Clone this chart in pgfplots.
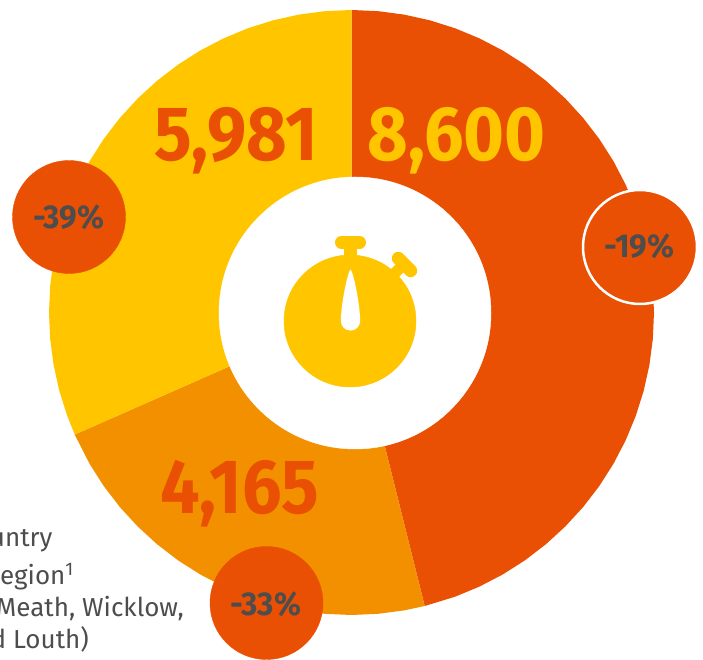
\documentclass[border=0pt]{standalone}
\usepackage{pgfplots}
\usepackage{fontspec}
\pgfplotsset{compat=1.18}
\setmainfont{Fira Sans}
\newfontfamily\bignum{Fira Sans}[FakeStretch=0.91]
\newfontfamily\badgenum{Fira Sans}[FakeStretch=0.95]
\definecolor{deep}{HTML}{E95003}
\definecolor{amber}{HTML}{FFC600}
\definecolor{tangerine}{HTML}{F39000}
\definecolor{ink}{HTML}{4D4D4D}
\pgfplotsset{canvas/.style={
  at={(0,0)}, anchor=south west,
  scale only axis, width=703pt, height=660pt,
  xmin=-351.5, xmax=351.5, ymin=-347.5, ymax=312.5,
  hide axis, clip=false}}
\begin{document}
\begin{tikzpicture}
\path[use as bounding box] (0,0) rectangle (703pt,660pt);
\clip (0,0) rectangle (703pt,660pt);
% Ring, hole, stopwatch body and badges
\begin{axis}[canvas]
% Three sectors, swept clockwise from the top: 8,600 / 4,165 / 5,981 (shares of 18,746)
\addplot[fill=deep, draw=none, data cs=polar] coordinates {
 (0,0) (90,302.5) (85,302.5) (80,302.5) (75,302.5) (70,302.5) (65,302.5) (60,302.5)
 (55,302.5) (50,302.5) (45,302.5) (40,302.5) (35,302.5) (30,302.5) (25,302.5) (20,302.5)
 (15,302.5) (10,302.5) (5,302.5) (0,302.5) (-5,302.5) (-10,302.5) (-15,302.5) (-20,302.5)
 (-25,302.5) (-30,302.5) (-35,302.5) (-40,302.5) (-45,302.5) (-50,302.5) (-55,302.5)
 (-60,302.5) (-65,302.5) (-70,302.5) (-76,302.5)} --cycle;
\addplot[fill=tangerine, draw=none, data cs=polar] coordinates {
 (0,0) (-76,302.5) (-80,302.5) (-85,302.5) (-90,302.5) (-95,302.5) (-100,302.5)
 (-105,302.5) (-110,302.5) (-115,302.5) (-120,302.5) (-125,302.5) (-130,302.5) (-135,302.5)
 (-140,302.5) (-145,302.5) (-150,302.5) (-156.2,302.5)} --cycle;
\addplot[fill=amber, draw=none, data cs=polar] coordinates {
 (0,0) (-156.2,302.5) (-160,302.5) (-165,302.5) (-170,302.5) (-175,302.5) (-180,302.5)
 (-185,302.5) (-190,302.5) (-195,302.5) (-200,302.5) (-205,302.5) (-210,302.5) (-215,302.5)
 (-220,302.5) (-225,302.5) (-230,302.5) (-235,302.5) (-240,302.5) (-245,302.5) (-250,302.5)
 (-255,302.5) (-260,302.5) (-265,302.5) (-270,302.5)} --cycle;

\addplot[only marks, mark=*, mark size=136pt, mark options={fill=white, draw=white}]
  coordinates {(3.5,-0.5)};
\addplot[only marks, mark=*, mark size=66pt, mark options={fill=amber, draw=amber}]
  coordinates {(-1.5,-8.5)};
\addplot[only marks, mark=*, mark size=56.5pt, mark options={fill=deep, draw=deep}]
  coordinates {(-282.5,95.5) (-85,-290.5)};
\addplot[only marks, mark=*, mark size=57pt, mark options={fill=deep, draw=white, line width=2.5pt}]
  coordinates {(288.5,65.5)};
\end{axis}
% Stopwatch details and all wording, above the discs
\begin{axis}[canvas]
\addplot[amber, line width=13pt, line cap=butt] coordinates {(-1,50) (-1,70)};
\addplot[amber, line width=13pt, line cap=round] coordinates {(-10,70) (8,70)};
\addplot[amber, line width=11pt, line cap=butt] coordinates {(48.5,44.5) (41.5,37.5)};
\addplot[amber, line width=13pt, line cap=round] coordinates {(46.8,54.2) (59.2,41.8)};
\fill[white] (axis cs:-1,43.2)
  .. controls (axis cs:2,40) and (axis cs:8.6,8) .. (axis cs:8.6,-8.5)
  .. controls (axis cs:8.6,-14) and (axis cs:4.3,-18.1) .. (axis cs:-1,-18.1)
  .. controls (axis cs:-6.3,-18.1) and (axis cs:-10.6,-14) .. (axis cs:-10.6,-8.5)
  .. controls (axis cs:-10.6,8) and (axis cs:-4,40) .. (axis cs:-1,43.2) -- cycle;

% Sector totals
\node[anchor=base, font=\fontsize{77}{77}\selectfont\bignum\bfseries, text=deep] at (axis cs:-115.5,151.5) {5,981};
\node[anchor=base, font=\fontsize{77}{77}\selectfont\bignum\bfseries, text=amber] at (axis cs:105,151.5) {8,600};
\node[anchor=base, font=\fontsize{77}{77}\selectfont\bignum\bfseries, text=deep] at (axis cs:-112,-201.5) {4,165};

% Badge percentages
\node[anchor=base, font=\fontsize{33}{33}\selectfont\badgenum\bfseries, text=ink] at (axis cs:-282.8,83.5) {-39\%};
\node[anchor=base, font=\fontsize{33}{33}\selectfont\badgenum\bfseries, text=ink] at (axis cs:287.8,54.5) {-19\%};
\node[anchor=base, font=\fontsize{33}{33}\selectfont\badgenum\bfseries, text=ink] at (axis cs:-85.7,-303) {-33\%};

% Legend wording, running off the left edge
\node[anchor=base east, inner sep=0pt, font=\fontsize{26}{26}\selectfont, text=ink] at (axis cs:-298.8,-234.2) {Country};
\node[anchor=base east, inner sep=0pt, font=\fontsize{26}{26}\selectfont, text=ink] at (axis cs:-277.5,-272.5) {Region\textsuperscript{1}};
\node[anchor=base east, inner sep=0pt, font=\fontsize{26}{26}\selectfont, text=ink] at (axis cs:-167.5,-304.5) {Meath, Wicklow,};
\node[anchor=base east, inner sep=0pt, font=\fontsize{26}{26}\selectfont, text=ink] at (axis cs:-262.5,-335.5) {and Louth)};
\end{axis}
\end{tikzpicture}
\end{document}
